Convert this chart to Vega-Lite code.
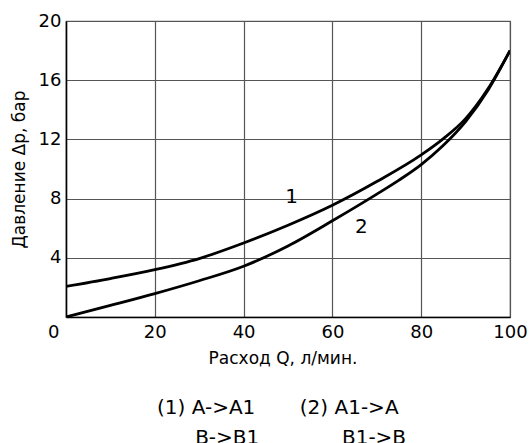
{
  "$schema": "https://vega.github.io/schema/vega-lite/v6.json",
  "width": 444,
  "height": 296,
  "autosize": {"type": "none"},
  "padding": {"left": 66, "top": 21, "right": 22, "bottom": 126},
  "background": "white",
  "config": {
    "font": "DejaVu Sans",
    "view": {"stroke": "#666666", "strokeWidth": 1.2}
  },
  "title": {
    "text": ["(1)\u00a0A->A1\u00a0\u00a0\u00a0\u00a0\u00a0\u00a0\u00a0(2)\u00a0A1->A", "\u200b\u00a0\u00a0\u00a0\u00a0\u00a0\u00a0B->B1\u00a0\u00a0\u00a0\u00a0\u00a0\u00a0\u00a0\u00a0\u00a0\u00a0\u00a0\u00a0\u00a0B1->B"],
    "orient": "bottom",
    "anchor": "start",
    "frame": "group",
    "align": "left",
    "dx": 91,
    "offset": 32,
    "fontSize": 20,
    "fontWeight": "normal",
    "lineHeight": 30,
    "color": "black",
    "font": "DejaVu Sans"
  },
  "datasets": {
    "curves": [
      {"q": 0, "p": 2.07, "c": "1"},
      {"q": 10, "p": 2.6, "c": "1"},
      {"q": 20, "p": 3.2, "c": "1"},
      {"q": 30, "p": 3.95, "c": "1"},
      {"q": 40, "p": 5.0, "c": "1"},
      {"q": 50, "p": 6.2, "c": "1"},
      {"q": 60, "p": 7.55, "c": "1"},
      {"q": 70, "p": 9.15, "c": "1"},
      {"q": 80, "p": 10.95, "c": "1"},
      {"q": 85, "p": 12.05, "c": "1"},
      {"q": 90, "p": 13.4, "c": "1"},
      {"q": 95, "p": 15.4, "c": "1"},
      {"q": 100, "p": 18.0, "c": "1"},
      {"q": 0, "p": 0, "c": "2"},
      {"q": 10, "p": 0.78, "c": "2"},
      {"q": 20, "p": 1.58, "c": "2"},
      {"q": 30, "p": 2.45, "c": "2"},
      {"q": 40, "p": 3.43, "c": "2"},
      {"q": 50, "p": 4.8, "c": "2"},
      {"q": 60, "p": 6.5, "c": "2"},
      {"q": 70, "p": 8.3, "c": "2"},
      {"q": 75, "p": 9.25, "c": "2"},
      {"q": 80, "p": 10.3, "c": "2"},
      {"q": 85, "p": 11.6, "c": "2"},
      {"q": 90, "p": 13.2, "c": "2"},
      {"q": 95, "p": 15.3, "c": "2"},
      {"q": 100, "p": 18.0, "c": "2"}
    ],
    "labels": [
      {"q": 50.8, "p": 8.1, "t": "1"},
      {"q": 66.5, "p": 6.1, "t": "2"}
    ]
  },
  "layer": [
    {
      "data": {"name": "curves"},
      "mark": {"type": "line", "interpolate": "monotone", "color": "black", "strokeWidth": 2.8, "clip": true},
      "encoding": {
        "x": {
          "field": "q", "type": "quantitative",
          "scale": {"domain": [0, 100], "nice": false, "zero": false},
          "axis": {
            "values": [0, 20, 40, 60, 80, 100],
            "title": "Расход Q, л/мин.",
            "titleFontSize": 17, "titleFontWeight": "normal", "titleColor": "black",
            "titlePadding": 9,
            "titleX": 216.5,
            "labelFontSize": 18, "labelColor": "black", "labelPadding": 6,
            "labelFlush": false,
            "labelAlign": {"condition": {"test": "datum.value == 0", "value": "right"}, "value": "center"},
            "labelOffset": {"condition": {"test": "datum.value == 0", "value": -7}, "value": 0},
            "ticks": false,
            "domainColor": "black", "domainWidth": 1.5,
            "grid": true, "gridColor": "#555555", "gridWidth": 1.2, "gridOpacity": 1
          }
        },
        "y": {
          "field": "p", "type": "quantitative",
          "scale": {"domain": [0, 20], "nice": false},
          "axis": {
            "values": [4, 8, 12, 16, 20],
            "title": "Давление Δр, бар",
            "titleFontSize": 17, "titleFontWeight": "normal", "titleColor": "black",
            "titlePadding": 10,
            "labelFontSize": 18, "labelColor": "black", "labelPadding": 5,
            "ticks": false,
            "domainColor": "black", "domainWidth": 1.5,
            "grid": true, "gridColor": "#555555", "gridWidth": 1.2, "gridOpacity": 1
          }
        },
        "detail": {"field": "c", "type": "nominal"}
      }
    },
    {
      "data": {"name": "labels"},
      "mark": {"type": "text", "fontSize": 20, "color": "black", "align": "center", "baseline": "middle"},
      "encoding": {
        "x": {"field": "q", "type": "quantitative"},
        "y": {"field": "p", "type": "quantitative"},
        "text": {"field": "t", "type": "nominal"}
      }
    }
  ]
}
